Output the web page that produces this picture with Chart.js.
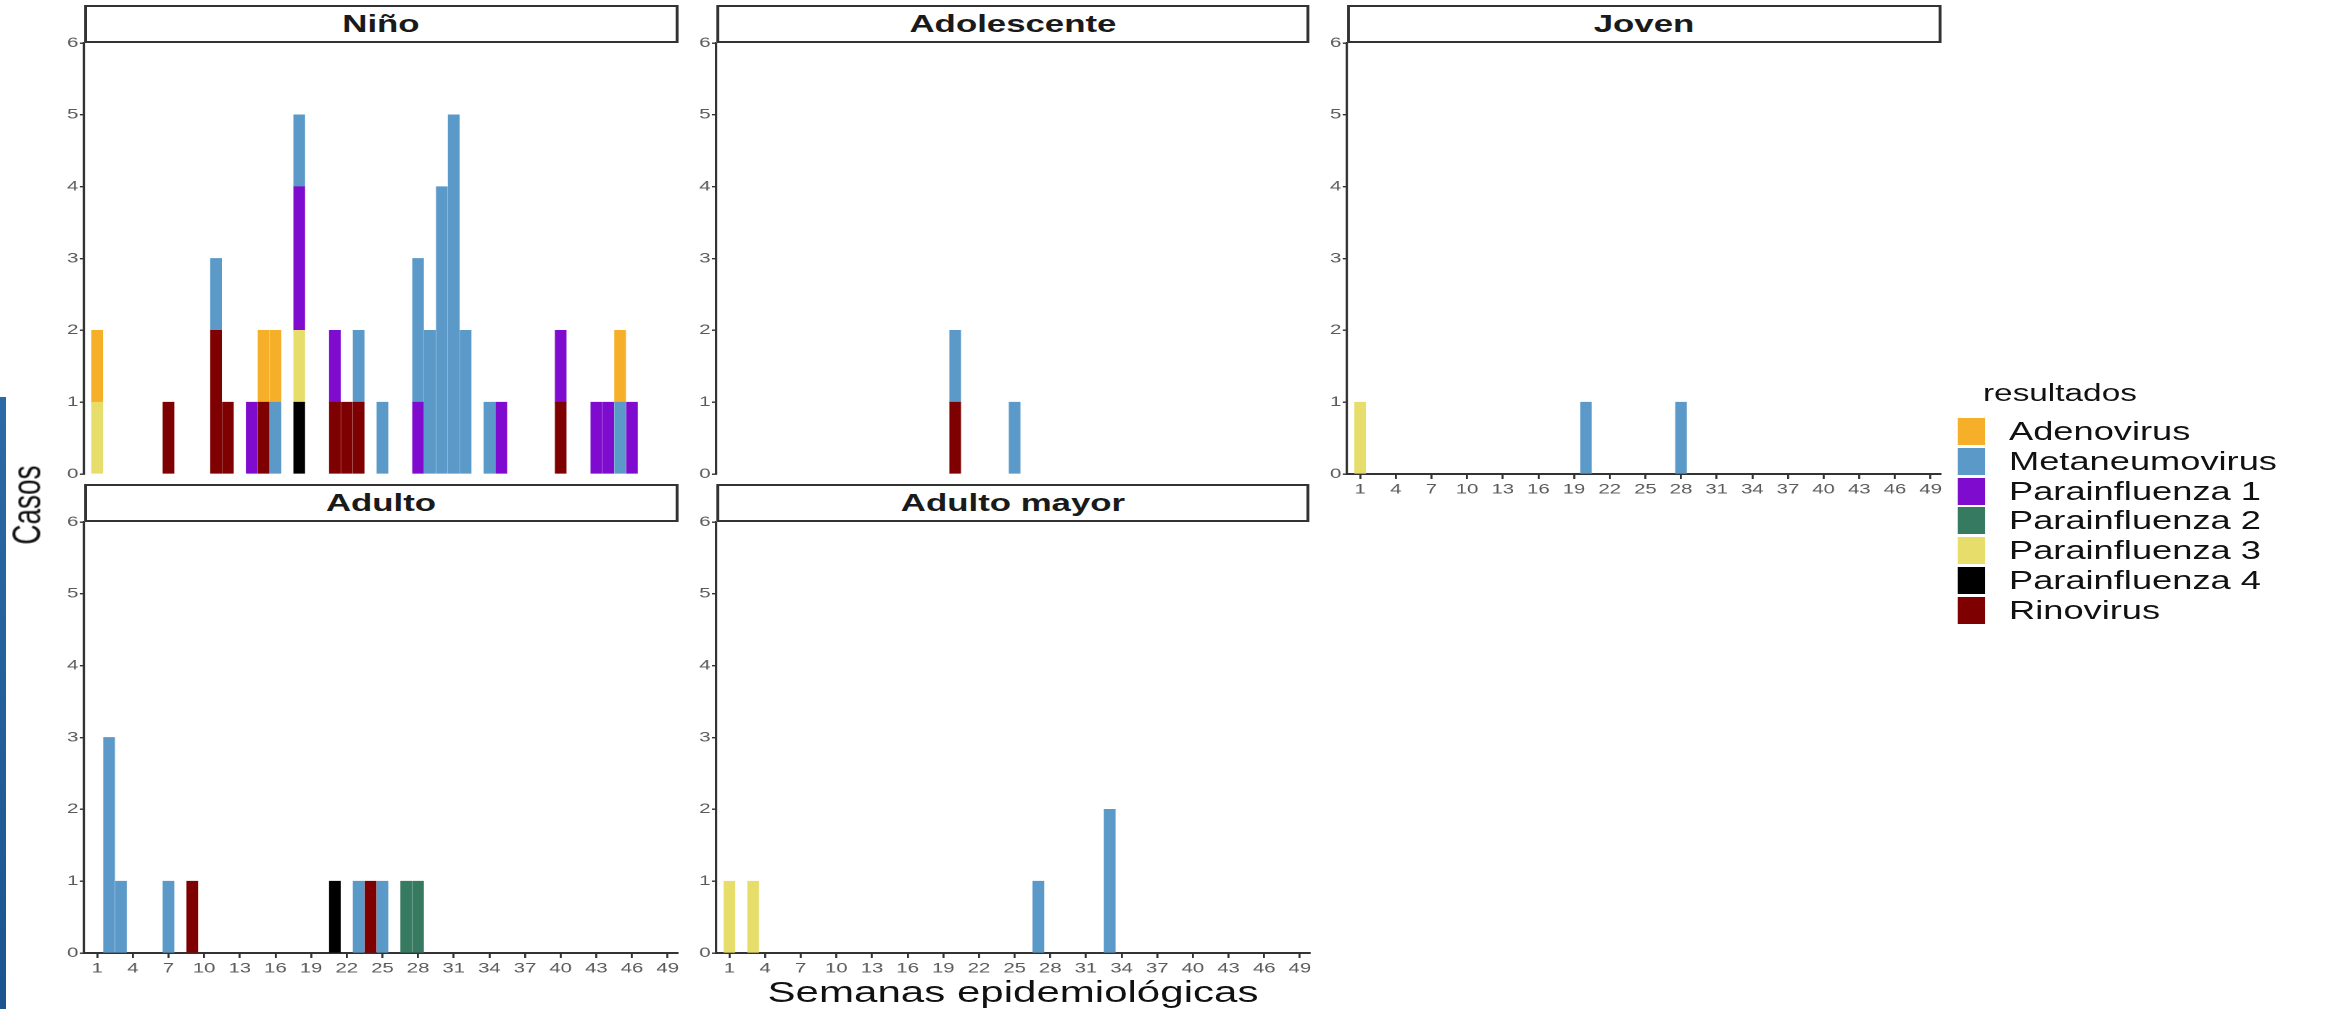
<!DOCTYPE html>
<html lang="es">
<head>
<meta charset="UTF-8">
<title>Casos por semana epidemiológica</title>
<script src="https://cdn.jsdelivr.net/npm/chart.js"></script>
<style>
    html, body { margin: 0; padding: 0; background: #fff; overflow: hidden; }
    body { width: 2338px; height: 1009px; position: relative; }
    /* el grafico original viene estirado a lo ancho, por eso el scaleX */
    #lienzo {
        position: absolute; left: 0; top: 0;
        width: 1613px; height: 1009px;
        transform: scaleX(1.45); transform-origin: 0 0;
        font-family: 'Liberation Sans', Arial, sans-serif;
    }
    .panel { position: absolute; }
    .franja {
        position: absolute; box-sizing: border-box;
        border: 2px solid #333; background: #fff;
        font-weight: bold; font-size: 24px; text-align: center; color: #1a1a1a;
    }
    .titulo-x, .titulo-y { position: absolute; color: #111; font-size: 29px; white-space: nowrap; }
    .titulo-y { transform: translate(-50%, -50%) rotate(-90deg); font-size: 28px; }
    .leyenda-titulo { position: absolute; font-size: 23px; color: #111; }
    .leyenda-caja { position: absolute; }
    .leyenda-texto { position: absolute; font-size: 25px; color: #111; white-space: nowrap; }
    .barra-azul {
        position: absolute; left: 0; top: 397px; width: 6px; height: 612px;
        background: linear-gradient(#2b6aa6, #1b5490);
    }
</style>
</head>
<body>

<div class="barra-azul"></div>
<div id="lienzo"></div>

<script>
    const S = 1.45;

    const virus = ['Adenovirus', 'Metaneumovirus', 'Parainfluenza 1', 'Parainfluenza 2',
        'Parainfluenza 3', 'Parainfluenza 4', 'Rinovirus'];
    const colores = ['#F5AF28', '#5B9AC8', '#7F0BCF', '#357A61', '#E6DD6B', '#000000', '#7E0000'];

    const ticksSemana = [1, 4, 7, 10, 13, 16, 19, 22, 25, 28, 31, 34, 37, 40, 43, 46, 49];
    const ticksCasos = [0, 1, 2, 3, 4, 5, 6];

    // Niño
    const ninoSemana = [1, 1, 7, 11, 11, 12, 14, 15, 15, 16, 16, 18, 18, 18, 18, 21, 21, 22,
        23, 23, 25, 28, 28, 29, 30, 31, 32, 34, 35, 40, 40, 43, 44, 45, 45, 46];
    const ninoVirus = ['Parainfluenza 3', 'Adenovirus', 'Rinovirus', 'Rinovirus', 'Metaneumovirus',
        'Rinovirus', 'Parainfluenza 1', 'Rinovirus', 'Adenovirus', 'Metaneumovirus', 'Adenovirus',
        'Parainfluenza 4', 'Parainfluenza 3', 'Parainfluenza 1', 'Metaneumovirus', 'Rinovirus',
        'Parainfluenza 1', 'Rinovirus', 'Rinovirus', 'Metaneumovirus', 'Metaneumovirus',
        'Parainfluenza 1', 'Metaneumovirus', 'Metaneumovirus', 'Metaneumovirus', 'Metaneumovirus',
        'Metaneumovirus', 'Metaneumovirus', 'Parainfluenza 1', 'Rinovirus', 'Parainfluenza 1',
        'Parainfluenza 1', 'Parainfluenza 1', 'Metaneumovirus', 'Adenovirus', 'Parainfluenza 1'];
    const ninoCasos = [1, 1, 1, 2,
        1, 1, 1, 1, 1, 1, 1, 1, 1,
        2,
        1, 1, 1, 1, 1, 1, 1, 1,
        2, 2, 4, 5, 2,
        1, 1, 1, 1, 1, 1, 1, 1, 1];

    // Adolescente
    const adolSemana = [20, 20, 25];
    const adolVirus = ['Rinovirus', 'Metaneumovirus', 'Metaneumovirus'];
    const adolCasos = [1, 1, 1];

    // Joven
    const jovenSemana = [1, 20, 28];
    const jovenVirus = ['Parainfluenza 3', 'Metaneumovirus', 'Metaneumovirus'];
    const jovenCasos = [1, 1, 1];

    // Adulto
    const adultoSemana = [2, 3, 7, 9, 21, 23, 24, 25, 27, 28];
    const adultoVirus = ['Metaneumovirus', 'Metaneumovirus', 'Metaneumovirus', 'Rinovirus',
        'Parainfluenza 4', 'Metaneumovirus', 'Rinovirus', 'Metaneumovirus',
        'Parainfluenza 2', 'Parainfluenza 2'];
    const adultoCasos = [3, 1, 1, 1, 1, 1, 1, 1, 1, 1];

    // Adulto mayor
    const mayorSemana = [1, 3, 27, 33];
    const mayorVirus = ['Parainfluenza 3', 'Parainfluenza 3', 'Metaneumovirus', 'Metaneumovirus'];
    const mayorCasos = [1, 1, 1, 2];

    const paneles = [
        { titulo: 'Niño', semana: ninoSemana, virus: ninoVirus, casos: ninoCasos, col: 0, fila: 0, ejeX: false },
        { titulo: 'Adolescente', semana: adolSemana, virus: adolVirus, casos: adolCasos, col: 1, fila: 0, ejeX: false },
        { titulo: 'Joven', semana: jovenSemana, virus: jovenVirus, casos: jovenCasos, col: 2, fila: 0, ejeX: true },
        { titulo: 'Adulto', semana: adultoSemana, virus: adultoVirus, casos: adultoCasos, col: 0, fila: 1, ejeX: true },
        { titulo: 'Adulto mayor', semana: mayorSemana, virus: mayorVirus, casos: mayorCasos, col: 1, fila: 1, ejeX: true }
    ];

    // medidas en pixeles de la imagen final (x se divide por S)
    const colIzq = [84, 716, 1347];
    const filaSup = [43, 522];
    const anchoPanel = 594;
    const altoPanel = 431;
    const altoFranja = 38;
    const xMin = -0.1, xMax = 49.8;

    const ANCHO_EJE_Y = 28;
    const ALTO_EJE_X = 32;
    const PAD_T = 10, PAD_R = 12;

    const fuente = "'Liberation Sans', Arial, sans-serif";
    const lienzo = document.getElementById('lienzo');
    const grosor = 0.9 * (anchoPanel / S) / (xMax - xMin);

    function armarDatasets(p) {
        var sets = [];
        // ggplot apila el ultimo nivel abajo
        for (var i = virus.length - 1; i >= 0; i--) {
            var datos = [];
            for (var k = 0; k < p.semana.length; k++) {
                if (p.virus[k] == virus[i]) datos.push({ x: p.semana[k], y: p.casos[k] });
            }
            sets.push({
                label: virus[i],
                backgroundColor: colores[i],
                borderWidth: 0,
                barThickness: grosor,
                data: datos
            });
        }
        return sets;
    }

    paneles.forEach(function (p) {
        var izq = colIzq[p.col] / S;
        var sup = filaSup[p.fila];

        var franja = document.createElement('div');
        franja.className = 'franja';
        franja.style.left = izq + 'px';
        franja.style.top = (sup - altoFranja) + 'px';
        franja.style.width = (anchoPanel / S) + 'px';
        franja.style.height = altoFranja + 'px';
        franja.style.lineHeight = (altoFranja - 4) + 'px';
        franja.textContent = p.titulo;

        var caja = document.createElement('div');
        caja.className = 'panel';
        var w = anchoPanel / S + ANCHO_EJE_Y + PAD_R;
        var h = altoPanel + PAD_T + ALTO_EJE_X;
        caja.style.left = (izq - ANCHO_EJE_Y) + 'px';
        caja.style.top = (sup - PAD_T) + 'px';
        caja.style.width = w + 'px';
        caja.style.height = h + 'px';
        var canvas = document.createElement('canvas');
        canvas.width = w;
        canvas.height = h;
        caja.appendChild(canvas);
        lienzo.appendChild(caja);
        lienzo.appendChild(franja);

        new Chart(canvas.getContext('2d'), {
            type: 'bar',
            data: { datasets: armarDatasets(p) },
            options: {
                responsive: false,
                devicePixelRatio: 2,
                animation: false,
                layout: { padding: { left: 0, top: PAD_T, right: PAD_R, bottom: 0 } },
                plugins: { legend: { display: false }, tooltip: { enabled: false } },
                scales: {
                    x: {
                        type: 'linear',
                        stacked: true,
                        offset: false,
                        min: xMin,
                        max: xMax,
                        display: p.ejeX,
                        afterBuildTicks: function (eje) { eje.ticks = ticksSemana.map(function (v) { return { value: v }; }); },
                        afterFit: function (eje) { eje.height = ALTO_EJE_X; },
                        grid: { offset: false, drawOnChartArea: false, drawTicks: true, tickLength: 5, color: '#333', lineWidth: 1.4 },
                        border: { display: true, color: '#333', width: 2 },
                        ticks: { autoSkip: false, maxRotation: 0, padding: 2, color: '#5a5a5a', font: { family: fuente, size: 14 } }
                    },
                    y: {
                        stacked: true,
                        min: 0,
                        max: 6,
                        afterBuildTicks: function (eje) { eje.ticks = ticksCasos.map(function (v) { return { value: v }; }); },
                        afterFit: function (eje) { eje.width = ANCHO_EJE_Y; },
                        grid: { drawOnChartArea: false, drawTicks: true, tickLength: 3, color: '#333', lineWidth: 1.4 },
                        border: { display: true, color: '#333', width: 1.6 },
                        ticks: { padding: 1, color: '#5a5a5a', font: { family: fuente, size: 14 } }
                    }
                }
            }
        });
    });

    // titulos de ejes
    var tx = document.createElement('div');
    tx.className = 'titulo-x';
    tx.style.left = (1013 / S - 300) + 'px';
    tx.style.width = '600px';
    tx.style.textAlign = 'center';
    tx.style.top = '975px';
    tx.style.lineHeight = '34px';
    tx.textContent = 'Semanas epidemiológicas';
    lienzo.appendChild(tx);

    var ty = document.createElement('div');
    ty.className = 'titulo-y';
    ty.style.left = (27 / S) + 'px';
    ty.style.top = '505px';
    ty.textContent = 'Casos';
    lienzo.appendChild(ty);

    // leyenda
    var lt = document.createElement('div');
    lt.className = 'leyenda-titulo';
    lt.style.left = (1983 / S) + 'px';
    lt.style.top = '380px';
    lt.textContent = 'resultados';
    lienzo.appendChild(lt);

    for (var i = 0; i < virus.length; i++) {
        var y0 = 418 + i * 29.8;
        var c = document.createElement('div');
        c.className = 'leyenda-caja';
        c.style.left = (1957 / S) + 'px';
        c.style.top = y0 + 'px';
        c.style.width = (28 / S) + 'px';
        c.style.height = '27px';
        c.style.background = colores[i];
        lienzo.appendChild(c);

        var t = document.createElement('div');
        t.className = 'leyenda-texto';
        t.style.left = (2009 / S) + 'px';
        t.style.top = (y0 - 1) + 'px';
        t.style.lineHeight = '29px';
        t.textContent = virus[i];
        lienzo.appendChild(t);
    }
</script>
</body>
</html>
